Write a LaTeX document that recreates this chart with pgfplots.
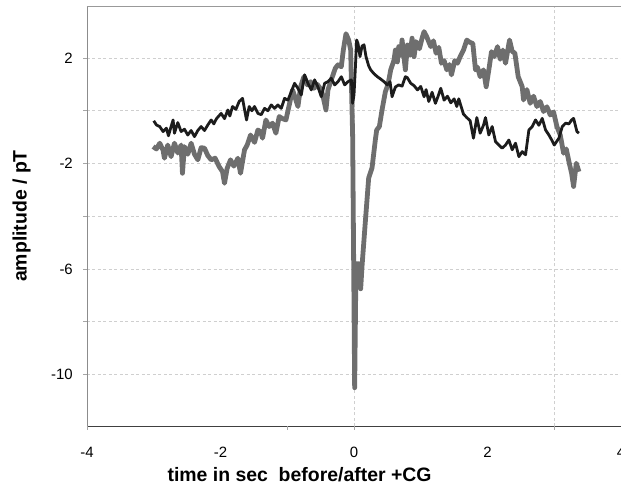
\documentclass[border=0pt]{standalone}
\usepackage{pgfplots}
\pgfplotsset{compat=1.18}
\usepackage{fontspec}
\setmainfont{Liberation Sans}
\definecolor{grayline}{HTML}{6E6E6E}
\definecolor{blackline}{HTML}{1C1C1C}
\definecolor{gridc}{HTML}{CFCFCF}
\begin{document}
\begin{tikzpicture}
\useasboundingbox (-87bp,-60bp) rectangle (534bp,426bp);
\begin{axis}[
  at={(0,0)}, anchor=south west,
  scale only axis, width=534bp, height=420bp,
  xmin=-4, xmax=4, ymin=-11.95, ymax=3.97,
  clip=false,
  axis lines*=left,
  x axis line style={draw=black!75, line width=0.9bp},
  y axis line style={draw=black!45, line width=0.7bp},
  major tick length=0pt,
  xtick={-4,-2,0,2,4}, xticklabels={-4,-2,0,2,4},
  ytick={-10,-8,-6,-4,-2,0,2}, yticklabels={-10,,-6,,-2,,2},
  ymajorgrids=true,
  extra x ticks={0,3}, extra x tick labels={},
  extra x tick style={grid=major},
  grid style={draw=gridc, line width=0.6bp, dash pattern=on 3bp off 2.5bp},
  xticklabel style={font=\fontsize{15}{18}\selectfont, anchor=center, inner sep=0pt, yshift=-26bp},
  yticklabel style={font=\fontsize{15}{18}\selectfont, anchor=east, inner sep=0pt, xshift=-14bp},
  xlabel={time in sec\ \ before/after +CG},
  ylabel={amplitude / pT},
  xlabel style={font=\fontsize{19.5}{22}\selectfont\bfseries, at={(axis description cs:0.398,-0.117)}, anchor=center},
  ylabel style={font=\fontsize{19.5}{22}\selectfont\bfseries, at={(axis description cs:-0.1227,0.5)}, anchor=center},
]
\draw[draw=black!40, line width=0.7bp] (rel axis cs:0,1) -- (rel axis cs:1,1);
\pgfplotsinvokeforeach{-10,-8,-6,-4,-2,0,2}{\draw[draw=black!35, line width=0.6bp] (axis cs:-4,#1) -- ([xshift=-4bp]axis cs:-4,#1);}
\pgfplotsinvokeforeach{-4,-1,0,3}{\draw[draw=black!35, line width=0.6bp] (axis cs:#1,-11.95) -- ([yshift=-4bp]axis cs:#1,-11.95);}

\addplot[color=grayline, line width=4.8bp, line join=round] coordinates {
(-3.01,-1.36) (-2.96,-1.45) (-2.91,-1.23) (-2.86,-1.50) (-2.84,-1.80) (-2.79,-1.30)
(-2.74,-1.74) (-2.69,-1.23) (-2.64,-1.60) (-2.59,-1.30) (-2.57,-2.37) (-2.54,-1.36)
(-2.49,-1.65) (-2.44,-1.23) (-2.39,-1.65) (-2.34,-1.86) (-2.29,-1.40) (-2.24,-1.42)
(-2.19,-1.70) (-2.14,-1.86) (-2.08,-1.80) (-2.02,-2.12) (-1.97,-2.31) (-1.94,-2.75)
(-1.90,-2.18) (-1.85,-1.86) (-1.80,-2.10) (-1.74,-1.80) (-1.70,-2.37) (-1.64,-1.48)
(-1.60,-1.30) (-1.55,-0.92) (-1.49,-1.20) (-1.44,-0.73) (-1.40,-0.80) (-1.37,-1.04)
(-1.32,-0.35) (-1.27,-0.60) (-1.22,-0.47) (-1.17,-0.85) (-1.12,-0.22) (-1.07,-0.30)
(-1.02,-0.35) (-0.97,0.22) (-0.92,0.79) (-0.87,0.40) (-0.84,0.16) (-0.80,0.91)
(-0.75,1.29) (-0.70,0.98) (-0.65,1.10) (-0.60,0.85) (-0.55,1.00) (-0.49,0.79)
(-0.46,0.50) (-0.42,0.03) (-0.39,0.79) (-0.34,1.17) (-0.28,1.61) (-0.24,1.74)
(-0.19,1.67) (-0.16,2.30) (-0.12,2.92) (-0.08,2.68) (-0.05,2.30) (-0.02,-1.0)
(0.01,-10.5) (0.03,-5.80) (0.07,-5.80) (0.10,-6.75) (0.12,-5.90) (0.17,-4.20)
(0.22,-2.55) (0.27,-2.17) (0.32,-1.10) (0.34,-0.73) (0.38,-0.60) (0.42,0.03)
(0.47,0.72) (0.51,1.00) (0.55,1.55) (0.60,1.92) (0.62,2.30) (0.65,1.85)
(0.67,2.43) (0.70,2.10) (0.72,2.68) (0.77,1.55) (0.80,2.49) (0.84,2.10)
(0.87,2.75) (0.90,2.05) (0.93,2.62) (0.98,2.35) (1.02,2.75) (1.05,3.00)
(1.09,2.80) (1.15,2.43) (1.19,2.65) (1.23,2.18) (1.27,2.40) (1.31,1.80)
(1.35,1.90) (1.39,1.55) (1.43,1.75) (1.46,1.36) (1.51,1.90) (1.55,1.80)
(1.59,2.05) (1.64,2.30) (1.69,2.68) (1.73,2.60) (1.78,2.55) (1.82,1.55)
(1.85,1.65) (1.89,1.29) (1.94,1.55) (1.98,0.91) (2.02,1.55) (2.06,2.24)
(2.10,2.05) (2.15,2.43) (2.19,1.95) (2.23,2.30) (2.27,1.80) (2.33,2.68)
(2.37,2.25) (2.41,2.18) (2.46,1.29) (2.52,0.91) (2.54,0.41) (2.59,0.80)
(2.64,0.28) (2.69,0.55) (2.74,0.16) (2.79,0.35) (2.84,-0.03) (2.89,0.15)
(2.94,-0.16) (2.99,-0.05) (3.04,-0.60) (3.09,-0.92) (3.14,-1.61) (3.18,-1.45)
(3.22,-1.93) (3.26,-2.37) (3.29,-2.87) (3.33,-1.99) (3.37,-2.31)
};

\addplot[color=blackline, line width=2.8bp, line join=round] coordinates {
(-3.00,-0.38) (-2.96,-0.54) (-2.91,-0.60) (-2.86,-0.79) (-2.81,-0.66) (-2.78,-0.95)
(-2.74,-0.60) (-2.71,-0.35) (-2.69,-0.85) (-2.64,-0.45) (-2.59,-0.79) (-2.54,-0.70)
(-2.49,-0.92) (-2.44,-0.75) (-2.39,-0.98) (-2.34,-0.75) (-2.29,-0.60) (-2.24,-0.75)
(-2.19,-0.54) (-2.14,-0.35) (-2.10,-0.50) (-2.06,-0.30) (-1.99,-0.10) (-1.94,-0.30)
(-1.89,0.03) (-1.86,-0.20) (-1.82,0.16) (-1.77,0.05) (-1.72,0.35) (-1.67,0.47)
(-1.64,0.05) (-1.61,-0.35) (-1.57,0.16) (-1.53,0.00) (-1.49,0.16) (-1.44,-0.10)
(-1.39,-0.15) (-1.34,0.09) (-1.29,0.00) (-1.24,0.22) (-1.19,0.09) (-1.14,0.22)
(-1.09,0.09) (-1.04,0.47) (-0.99,0.40) (-0.94,0.72) (-0.89,1.04) (-0.84,0.85)
(-0.79,0.60) (-0.74,1.36) (-0.69,1.04) (-0.64,0.79) (-0.59,1.17) (-0.54,0.90)
(-0.49,0.53) (-0.44,1.04) (-0.39,1.10) (-0.34,1.23) (-0.29,0.98) (-0.24,1.10)
(-0.19,1.29) (-0.14,0.98) (-0.09,1.10) (-0.04,1.17) (-0.02,0.28) (0.00,0.60)
(0.02,1.6) (0.04,2.68) (0.06,2.55) (0.09,2.05) (0.12,2.45) (0.15,2.50)
(0.18,2.05) (0.22,1.70) (0.25,1.55) (0.30,1.40) (0.35,1.29) (0.40,1.20)
(0.45,1.10) (0.50,0.98) (0.54,1.10) (0.57,0.53) (0.62,0.90) (0.67,0.98)
(0.72,0.93) (0.77,1.29) (0.80,1.25) (0.85,1.04) (0.90,0.95) (0.95,0.79)
(1.00,0.92) (1.05,0.53) (1.08,0.80) (1.12,0.35) (1.17,0.70) (1.22,0.28)
(1.26,0.55) (1.30,0.85) (1.35,0.40) (1.40,0.55) (1.45,0.30) (1.50,0.45)
(1.54,0.16) (1.57,0.45) (1.60,0.20) (1.64,-0.13) (1.69,-0.26) (1.74,-0.38)
(1.79,-1.04) (1.84,-0.26) (1.89,-0.85) (1.94,-0.55) (1.97,-0.26) (2.02,-0.92)
(2.07,-0.60) (2.12,-1.17) (2.17,-1.30) (2.22,-1.42) (2.27,-1.30) (2.32,-1.11)
(2.37,-1.48) (2.42,-1.23) (2.47,-1.74) (2.52,-1.55) (2.57,-1.67) (2.62,-0.73)
(2.67,-0.60) (2.72,-0.35) (2.77,-0.55) (2.82,-0.29) (2.87,-0.73) (2.92,-0.92)
(2.96,-1.10) (3.00,-1.30) (3.07,-1.04) (3.12,-0.60) (3.17,-0.47) (3.22,-0.50)
(3.26,-0.35) (3.29,-0.29) (3.34,-0.79) (3.37,-0.85)
};
\end{axis}
\end{tikzpicture}
\end{document}
